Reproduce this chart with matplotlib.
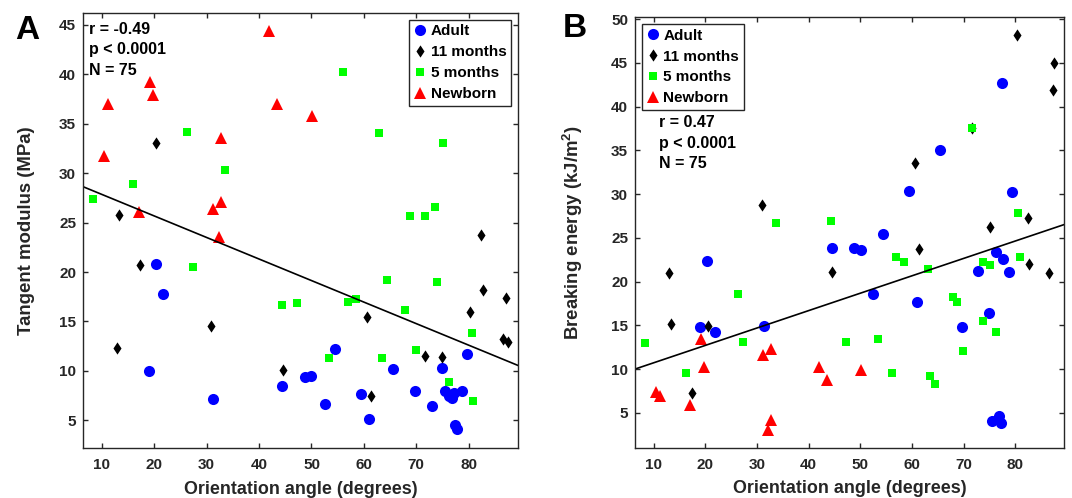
"""Orientation angle vs tangent modulus / breaking energy, two panels."""
import numpy as np
import matplotlib; matplotlib.use('Agg')
import matplotlib.pyplot as plt

plt.rcParams['font.family'] = ['Liberation Sans', 'DejaVu Sans']
plt.rcParams['font.weight'] = 'bold'
plt.rcParams['axes.labelweight'] = 'bold'
plt.rcParams['mathtext.fontset'] = 'custom'
plt.rcParams['mathtext.rm'] = 'Liberation Sans:bold'
plt.rcParams['mathtext.bf'] = 'Liberation Sans:bold'

GROUPS = ["Adult", "11 months", "5 months", "Newborn"]

# ---- panel A: tangent modulus (MPa) ----
a_adult_x = [20.3, 21.6, 19.0, 44.4, 31.2, 54.4, 79.6, 65.5, 74.9, 48.8, 50.0, 59.5,
             69.7, 75.4, 76.3, 77.1, 76.9, 78.8, 52.5, 72.9, 61.0, 77.3, 77.7]
a_adult_y = [20.85, 17.8, 10.0, 8.5, 7.2, 12.2, 11.7, 10.2, 10.3, 9.4, 9.5, 7.7,
             8.0, 8.0, 7.5, 7.8, 7.3, 8.0, 6.7, 6.4, 5.1, 4.5, 4.15]
a_m11_x = [20.4, 13.3, 17.3, 30.9, 12.8, 44.5, 82.4, 82.7, 87.2, 80.3, 60.6, 86.5,
           87.4, 71.6, 74.9, 61.4]
a_m11_y = [33.1, 25.8, 20.75, 14.5, 12.3, 10.1, 23.7, 18.2, 17.4, 16.0, 15.5, 13.2,
           12.9, 11.5, 11.4, 7.5]
a_m5_x = [26.2, 33.5, 16.0, 8.3, 56.1, 62.9, 75.1, 73.6, 68.8, 71.6, 27.3, 44.3,
          47.2, 64.4, 73.9, 56.9, 58.5, 67.9, 80.6, 70.0, 53.4, 63.4, 76.2, 80.8]
a_m5_y = [34.2, 30.3, 28.9, 27.4, 40.2, 34.1, 33.1, 26.6, 25.65, 25.65, 20.5, 16.65,
          16.85, 19.2, 19.0, 17.0, 17.3, 16.2, 13.8, 12.1, 11.3, 11.3, 8.9, 7.0]
a_new_x = [41.9, 19.1, 19.7, 11.1, 43.5, 32.8, 10.5, 32.8, 31.2, 17.0, 50.1, 32.3]
a_new_y = [44.4, 39.2, 37.9, 37.0, 37.0, 33.6, 31.7, 27.1, 26.4, 26.05, 35.8, 23.5]

# ---- panel B: breaking energy (kJ/m^2) ----
b_adult_x = [77.4, 65.4, 59.5, 79.4, 54.4, 48.8, 50.1, 76.2, 77.6, 72.8, 78.8, 52.4,
             61.0, 74.9, 69.6, 75.4, 76.9, 77.3, 44.5, 20.3, 19.0, 21.8, 31.3]
b_adult_y = [42.7, 35.0, 30.35, 30.2, 25.4, 23.8, 23.6, 23.4, 22.6, 21.2, 21.1, 18.6,
             17.7, 16.4, 14.8, 4.1, 4.6, 3.8, 23.9, 22.4, 14.8, 14.3, 14.9]
b_m11_x = [31.0, 80.4, 87.5, 87.3, 71.7, 60.6, 82.4, 75.0, 61.3, 82.6, 86.6, 44.5,
           12.9, 13.4, 20.5, 17.4]
b_m11_y = [28.8, 48.2, 45.0, 41.9, 37.6, 33.5, 27.3, 26.3, 23.7, 22.0, 21.0, 21.1,
           21.0, 15.15, 14.95, 7.3]
b_m5_x = [33.6, 44.4, 71.7, 80.6, 57.0, 58.4, 63.0, 80.8, 73.7, 75.0, 67.9, 68.7,
          73.8, 76.2, 47.3, 53.5, 69.9, 56.1, 63.4, 64.4, 26.3, 8.4, 27.4, 16.2]
b_m5_y = [26.75, 26.9, 37.6, 27.9, 22.8, 22.3, 21.5, 22.8, 22.2, 21.95, 18.3, 17.7,
          15.5, 14.3, 13.1, 13.4, 12.1, 9.6, 9.2, 8.3, 18.6, 13.0, 13.1, 9.6]
b_new_x = [19.2, 31.2, 32.8, 19.8, 42.0, 43.5, 10.5, 11.2, 17.0, 32.8, 32.2, 50.1]
b_new_y = [13.5, 11.65, 12.3, 10.2, 10.2, 8.8, 7.35, 6.9, 5.9, 4.2, 3.0, 9.9]

A_STATS = ["r = -0.49", "p < 0.0001", "N = 75"]
B_STATS = ["r = 0.47", "p < 0.0001", "N = 75"]

# matlab-style diamond, a bit wider than mpl's 'd'
DIAMOND = [(0, 1), (0.66, 0), (0, -1), (-0.66, 0), (0, 1)]
STYLES = [dict(marker='o', color='#0000ff', ms=8.0),
          dict(marker=DIAMOND, color='black', ms=8.8),
          dict(marker='s', color='#00ff00', ms=5.8),
          dict(marker='^', color='#ff0000', ms=8.0)]

fig = plt.figure(figsize=(10.72, 4.98), dpi=100)
axA = fig.add_axes([0.0774, 0.1004, 0.4058, 0.8735])
axB = fig.add_axes([0.5923, 0.1004, 0.4002, 0.8649])


def draw_panel(ax, series, ylim, yticks, ylabel):
    for (x, y), st, name in zip(series, STYLES, GROUPS):
        ax.plot(x, y, linestyle='none', marker=st['marker'], color=st['color'],
                markersize=st['ms'], markeredgewidth=0, label=name)
    allx = np.concatenate([s[0] for s in series])
    ally = np.concatenate([s[1] for s in series])
    k, b = np.polyfit(allx, ally, 1)
    xl = np.array([6.4, 89.4])
    ax.plot(xl, k * xl + b, color='black', lw=1.2)
    ax.set_xlim(*xl)
    ax.set_ylim(*ylim)
    ax.set_xticks([10, 20, 30, 40, 50, 60, 70, 80])
    ax.set_yticks(yticks)
    ax.tick_params(direction='in', top=True, right=True, length=3.5, width=1,
                   labelsize=11, colors='#262626')
    ax.tick_params(axis='x', pad=7)
    ax.tick_params(axis='y', pad=5)
    for sp in ax.spines.values():
        sp.set_linewidth(1.0)
        sp.set_color('#262626')
    ax.set_xlabel("Orientation angle (degrees)", fontsize=12.9, color='#262626')
    ax.set_ylabel(ylabel, fontsize=13.4, color='#262626')
    ax.xaxis.set_label_coords(0.5, -0.075)


draw_panel(axA, [(a_adult_x, a_adult_y), (a_m11_x, a_m11_y), (a_m5_x, a_m5_y),
                 (a_new_x, a_new_y)], (2.2, 46.2), [5, 10, 15, 20, 25, 30, 35, 40, 45],
           "Tangent modulus (MPa)")
draw_panel(axB, [(b_adult_x, b_adult_y), (b_m11_x, b_m11_y), (b_m5_x, b_m5_y),
                 (b_new_x, b_new_y)], (1.0, 50.2), [5, 10, 15, 20, 25, 30, 35, 40, 45, 50],
           r"Breaking energy (kJ/m$^{\mathbf{2}}$)")
axA.yaxis.set_label_coords(-0.110, 0.5)
axB.yaxis.set_label_coords(-0.117, 0.5)

leg_kw = dict(fontsize=11, frameon=True, fancybox=False, framealpha=1,
              edgecolor='#262626', handlelength=0.8, handletextpad=0.3,
              labelspacing=0.45, borderpad=0.3, borderaxespad=0.45)
lg = axA.legend(loc='upper right', **leg_kw)
lg.get_frame().set_linewidth(1.0)
lg = axB.legend(loc='upper left', **leg_kw)
lg.get_frame().set_linewidth(1.0)

for i, s in enumerate(A_STATS):
    axA.text(0.014, 0.963 - i * 0.048, s, transform=axA.transAxes, fontsize=11.5,
             va='center', ha='left')
for i, s in enumerate(B_STATS):
    axB.text(0.056, 0.755 - i * 0.047, s, transform=axB.transAxes, fontsize=11.5,
             va='center', ha='left')

fig.text(27 / 1072, 1 - 39 / 498, "A", fontsize=24, fontweight='bold', ha='center', va='baseline')
fig.text(575 / 1072, 1 - 37 / 498, "B", fontsize=24, fontweight='bold', ha='center', va='baseline')

plt.savefig("out.png", dpi=100)
plt.close()
